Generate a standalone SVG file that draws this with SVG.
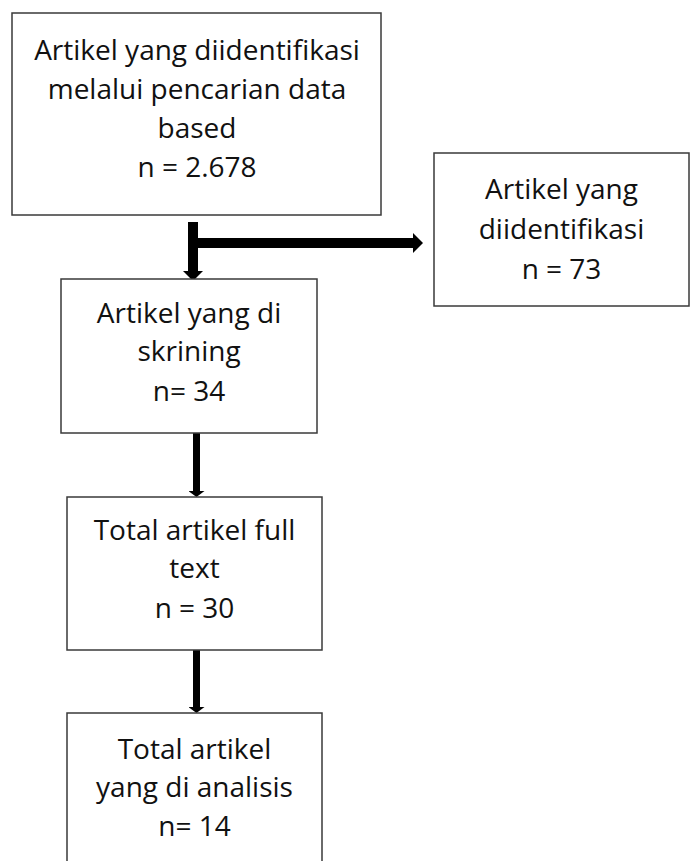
<svg xmlns="http://www.w3.org/2000/svg" width="694" height="861" viewBox="0 0 694 861">
<style>
.box{fill:#fff;stroke:#3a3a3a;stroke-width:1.5}
.t{font-family:"Open Sans","Noto Sans","Liberation Sans",sans-serif;font-size:28px;fill:#111;text-anchor:middle}
.c{stroke:#000;fill:none}
</style>
<defs>
<marker id="hBig" markerUnits="userSpaceOnUse" markerWidth="10" markerHeight="20" refX="0" refY="10" orient="auto">
<path d="M0,0 L10,10 L0,20 z" fill="#000"/>
</marker>
<marker id="hSmall" markerUnits="userSpaceOnUse" markerWidth="6" markerHeight="16" refX="0" refY="8" orient="auto">
<path d="M0,0 L6,8 L0,16 z" fill="#000"/>
</marker>
</defs>
<rect width="694" height="861" fill="#fff"/>
<g id="connectors">
<line class="c" x1="193" y1="222" x2="193" y2="271" stroke-width="10" marker-end="url(#hBig)"/>
<line class="c" x1="188" y1="243" x2="413" y2="243" stroke-width="10" marker-end="url(#hBig)"/>
<line class="c" x1="196.5" y1="433" x2="196.5" y2="491" stroke-width="7" marker-end="url(#hSmall)"/>
<line class="c" x1="196.5" y1="650" x2="196.5" y2="707" stroke-width="7" marker-end="url(#hSmall)"/>
</g>
<g id="node1">
<rect class="box" x="12" y="13" width="369" height="202"/>
<text class="t" x="197" y="60">Artikel yang diidentifikasi</text>
<text class="t" x="197" y="99">melalui pencarian data</text>
<text class="t" x="197" y="138">based</text>
<text class="t" x="197" y="177">n = 2.678</text>
</g>
<g id="node2">
<rect class="box" x="434" y="153" width="255" height="153"/>
<text class="t" x="561.5" y="199">Artikel yang</text>
<text class="t" x="561.5" y="239">diidentifikasi</text>
<text class="t" x="561.5" y="279">n = 73</text>
</g>
<g id="node3">
<rect class="box" x="61" y="279" width="256" height="154"/>
<text class="t" x="189" y="323">Artikel yang di</text>
<text class="t" x="189" y="361">skrining</text>
<text class="t" x="189" y="401">n= 34</text>
</g>
<g id="node4">
<rect class="box" x="67" y="497" width="255" height="153"/>
<text class="t" x="194.5" y="540">Total artikel full</text>
<text class="t" x="194.5" y="578">text</text>
<text class="t" x="194.5" y="618">n = 30</text>
</g>
<g id="node5">
<path class="box" d="M67,861 V713 H322 V861"/>
<text class="t" x="194.5" y="759">Total artikel</text>
<text class="t" x="194.5" y="797">yang di analisis</text>
<text class="t" x="194.5" y="836">n= 14</text>
</g>
</svg>
